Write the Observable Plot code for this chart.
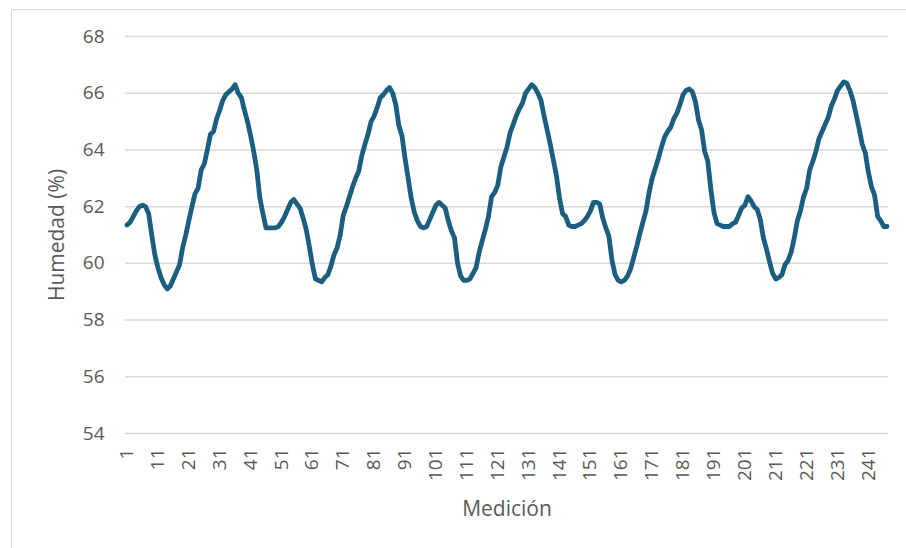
<!DOCTYPE html>
<html>
<head>
<meta charset="utf-8">
<script src="https://cdn.jsdelivr.net/npm/d3@7"></script>
<script src="https://cdn.jsdelivr.net/npm/@observablehq/plot@0.6"></script>
<style>
  body { margin: 0; background: #fff; }
  #frame { position: relative; width: 906px; height: 548px; overflow: hidden; background: #fff; }
  #frame::before { content: ""; position: absolute; left: 11px; top: 9px; width: 1000px; height: 1000px; border: 1.5px solid #d9d9d9; }
  #chart { position: absolute; left: 0; top: 0; }
  #chart svg text { fill: #595959; }
  #chart svg g[aria-label="x-axis label"] text,
  #chart svg g[aria-label="y-axis label"] text { font-size: 21px; }
</style>
</head>
<body>
<div id="frame"><div id="chart"></div></div>
<script>
// Relative humidity (%) for each of the 247 measurements
const humedad = [
  61.35, 61.45, 61.65, 61.85, 62.0, 62.05, 62.0, 61.75, 61.0, 60.3,
  59.85, 59.5, 59.25, 59.1, 59.2, 59.45, 59.7, 59.95, 60.55, 61.0,
  61.5, 62.0, 62.45, 62.65, 63.3, 63.5, 64.0, 64.55, 64.65, 65.1,
  65.4, 65.75, 65.95, 66.05, 66.15, 66.3, 66.0, 65.85, 65.4, 65.0,
  64.5, 63.95, 63.3, 62.3, 61.75, 61.25, 61.25, 61.25, 61.25, 61.3,
  61.45, 61.65, 61.9, 62.15, 62.25, 62.1, 61.95, 61.6, 61.2, 60.6,
  59.95, 59.45, 59.4, 59.35, 59.5, 59.6, 59.9, 60.3, 60.55, 61.0,
  61.7, 62.0, 62.35, 62.7, 63.0, 63.25, 63.8, 64.2, 64.55, 65.0,
  65.2, 65.5, 65.85, 65.95, 66.1, 66.2, 66.0, 65.6, 64.85, 64.5,
  63.7, 63.0, 62.3, 61.8, 61.5, 61.3, 61.25, 61.3, 61.55, 61.8,
  62.05, 62.15, 62.05, 61.95, 61.5, 61.15, 60.9, 60.0, 59.55, 59.4,
  59.4, 59.45, 59.65, 59.85, 60.4, 60.8, 61.2, 61.65, 62.35, 62.5,
  62.75, 63.4, 63.75, 64.1, 64.6, 64.9, 65.2, 65.45, 65.65, 66.0,
  66.15, 66.3, 66.2, 66.0, 65.75, 65.2, 64.7, 64.2, 63.65, 63.1,
  62.3, 61.75, 61.65, 61.35, 61.3, 61.3, 61.35, 61.4, 61.5, 61.65,
  61.85, 62.15, 62.15, 62.1, 61.6, 61.25, 60.95, 60.1, 59.6, 59.4,
  59.35, 59.4, 59.55, 59.8, 60.2, 60.6, 61.05, 61.45, 61.85, 62.5,
  63.0, 63.35, 63.7, 64.1, 64.45, 64.65, 64.8, 65.1, 65.3, 65.6,
  65.95, 66.1, 66.15, 66.05, 65.7, 65.05, 64.7, 63.95, 63.6, 62.6,
  61.8, 61.4, 61.35, 61.3, 61.3, 61.3, 61.4, 61.45, 61.7, 61.95,
  62.05, 62.35, 62.2, 62.0, 61.9, 61.55, 60.9, 60.5, 60.05, 59.65,
  59.45, 59.5, 59.6, 59.95, 60.1, 60.4, 60.9, 61.5, 61.85, 62.35,
  62.65, 63.3, 63.6, 63.95, 64.4, 64.65, 64.9, 65.15, 65.55, 65.8,
  66.1, 66.25, 66.4, 66.35, 66.1, 65.75, 65.25, 64.75, 64.2, 63.9,
  63.2, 62.7, 62.4, 61.65, 61.5, 61.3, 61.3
];

// Measurement numbers 1..247
const medicion = humedad.map((_, i) => i + 1);

// Axis tick values
const yTicks = [54, 56, 58, 60, 62, 64, 66, 68];
const xTicks = [1, 11, 21, 31, 41, 51, 61, 71, 81, 91, 101, 111, 121, 131, 141, 151, 161, 171, 181, 191, 201, 211, 221, 231, 241];

const rows = medicion.map((m, i) => ({medicion: m, humedad: humedad[i]}));

const chart = Plot.plot({
  width: 906,
  height: 548,
  marginLeft: 125,
  marginRight: 18,
  marginTop: 36,
  marginBottom: 115,
  style: {
    fontFamily: "'Open Sans', sans-serif",
    fontSize: "19px",
    color: "#595959",
    background: "transparent",
    overflow: "visible"
  },
  x: {domain: [0.5, medicion.length + 0.5]},
  y: {domain: [54, 68]},
  marks: [
    Plot.gridY(yTicks, {stroke: "#d9d9d9", strokeOpacity: 1, strokeWidth: 1.5}),
    Plot.axisY(yTicks, {
      tickSize: 0, tickPadding: 21,
      label: "Humedad (%)", labelAnchor: "center", labelArrow: "none", labelOffset: 76
    }),
    Plot.axisX(xTicks, {
      tickSize: 0, tickRotate: -90, tickPadding: 15,
      label: "Medición", labelAnchor: "center", labelArrow: "none", labelOffset: 82
    }),
    Plot.lineY(rows, {
      x: "medicion", y: "humedad",
      stroke: "#1b5e80", strokeWidth: 4.8
    })
  ]
});

document.getElementById("chart").appendChild(chart);
</script>
</body>
</html>
